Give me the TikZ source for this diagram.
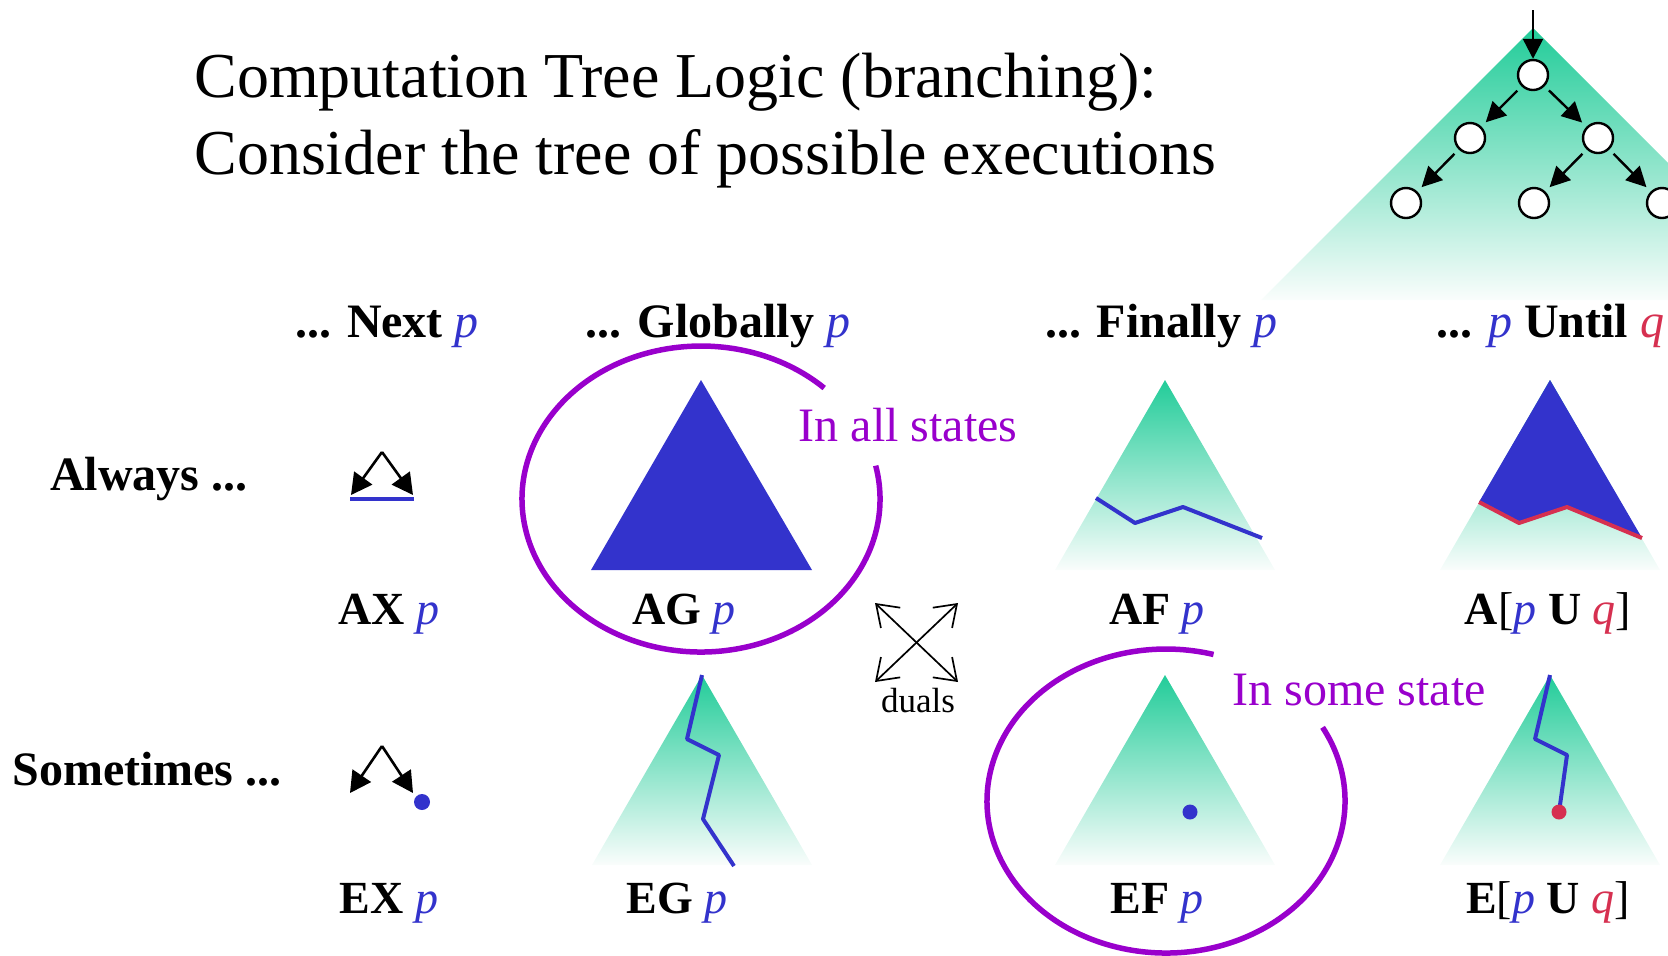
\documentclass[tikz,border=0pt]{standalone}
\usepackage{fontspec}
\setmainfont{Liberation Serif}
\usetikzlibrary{arrows.meta}
\definecolor{cblue}{RGB}{51,51,204}
\definecolor{cred}{RGB}{214,48,80}
\definecolor{cpurple}{RGB}{153,0,204}
\definecolor{cgreen}{RGB}{34,204,153}
\definecolor{cfade}{RGB}{250,253,252}
\newcommand{\ctlp}{\textnormal{\textit{\textcolor{cblue}{p}}}}
\newcommand{\ctlq}{\textnormal{\textit{\textcolor{cred}{q}}}}
\begin{document}
\begin{tikzpicture}[x=0.5pt,y=-0.5pt,
  ttl/.style={inner sep=0pt, anchor=base west, font=\fontsize{32}{38}\selectfont},
  hdr/.style={inner sep=0pt, anchor=base, font=\fontsize{24}{28}\selectfont\bfseries},
  lbl/.style={inner sep=0pt, anchor=base, font=\fontsize{23}{27}\selectfont},
  note/.style={inner sep=0pt, anchor=base, font=\fontsize{24}{28}\selectfont, text=cpurple},
  smalltxt/.style={inner sep=0pt, anchor=base, font=\fontsize{17.5}{20}\selectfont},
  state/.style={circle, draw=black, fill=white, line width=1.2pt, inner sep=0pt, minimum size=15pt},
  treearrow/.style={-{Triangle[length=10pt,width=10pt]}, line width=1.2pt},
  iconarrow/.style={-{Triangle[length=10.5pt,width=11pt]}, line width=1.3pt},
  dualarrow/.style={{Straight Barb[length=10pt,width=14pt]}-{Straight Barb[length=10pt,width=14pt]}, line width=0.85pt},
  fade/.style={top color=cgreen, middle color=cgreen!42!white, bottom color=cfade},
  trace/.style={draw=cblue, line width=2pt, line join=round},
  ring/.style={draw=cpurple, line width=2.75pt}
]
\useasboundingbox (0,0) rectangle (1668,955);

% big tree
\shade[fade] (1533,28) -- (1668,163) -- (1668,300) -- (1261,300) -- cycle;
\node[state] (r) at (1533,75) {};
\node[state] (a) at (1470,138) {};
\node[state] (b) at (1598,138) {};
\node[state] (c) at (1406,203) {};
\node[state] (d) at (1534,203) {};
\node[state] (e) at (1662,203) {};
\coordinate (rin) at (1533,10);
\draw[treearrow] (rin) -- (r);
\draw[treearrow, shorten <=3pt, shorten >=3pt] (r) -- (a);
\draw[treearrow, shorten <=3pt, shorten >=3pt] (r) -- (b);
\draw[treearrow, shorten <=3pt, shorten >=3pt] (a) -- (c);
\draw[treearrow, shorten <=3pt, shorten >=3pt] (b) -- (d);
\draw[treearrow, shorten <=3pt, shorten >=3pt] (b) -- (e);

% title
\node[ttl] (t1) at (194,97) {Computation Tree Logic (branching):};
\node[ttl] (t2) at (194,174) {Consider the tree of possible executions};

% headers
\node[hdr] (hnext) at (387,337) {... Next \ctlp};
\node[hdr] (hglob) at (718,337) {... Globally \ctlp};
\node[hdr] (hfin) at (1161,337) {... Finally \ctlp};
\node[hdr] (huntil) at (1550,337) {... \ctlp\ Until \ctlq};

\node[hdr] (always) at (149,490) {Always ...};
\node[hdr] (sometimes) at (147,785) {Sometimes ...};

% AX icon
\coordinate (axt) at (382,452);
\coordinate (axl) at (351,495);
\coordinate (axr) at (413,495);
\coordinate (axbl) at (350,499);
\coordinate (axbr) at (414,499);
\draw[iconarrow] (axt) -- (axl);
\draw[iconarrow] (axt) -- (axr);
\draw[cblue, line width=1.7pt] (axbl) -- (axbr);

% EX icon
\coordinate (ext) at (382,746);
\coordinate (exl) at (350,793);
\coordinate (exr) at (413,793);
\draw[iconarrow] (ext) -- (exl);
\draw[iconarrow] (ext) -- (exr);
\fill[cblue] (422,802) circle (8);

% AG
\fill[cblue] (701,380) -- (812,570) -- (591,570) -- cycle;
% AF
\shade[fade] (1165,380) -- (1275,570) -- (1055,570) -- cycle;
\draw[trace] (1096,498) -- (1135,523) -- (1183,507) -- (1262,538);
% A[p U q]
\shade[fade] (1550,380) -- (1660,570) -- (1440,570) -- cycle;
\fill[cblue] (1550,380) -- (1479,502) -- (1519,523) -- (1567,507) -- (1642,538) -- cycle;
\draw[draw=cred, line width=2pt, line join=round] (1479,502) -- (1519,523) -- (1567,507) -- (1642,538);

% EG
\shade[fade] (702,675) -- (812,865) -- (592,865) -- cycle;
\draw[trace] (702,675) -- (687,739) -- (719,755) -- (703,819) -- (734,866);
% EF
\shade[fade] (1165,675) -- (1275,865) -- (1055,865) -- cycle;
\fill[cblue] (1190,812) circle (7.5);
% E[p U q]
\shade[fade] (1550,675) -- (1660,865) -- (1440,865) -- cycle;
\draw[trace] (1550,675) -- (1535,739) -- (1567,755) -- (1559,812);
\fill[cred] (1559,812) circle (7.5);

% rings
\draw[ring] (701,499) ++(-12.6:179 and 153) arc[start angle=-12.6, end angle=313.5, x radius=179, y radius=153];
\draw[ring] (1166,801) ++(-29:179 and 152) arc[start angle=-29, end angle=285.4, x radius=179, y radius=152];

\node[note] (allstates) at (908,441) {In all states};
\node[note] (somestate) at (1359,705) {In some state};

% duals
\coordinate (d1) at (875,603);
\coordinate (d2) at (958,682);
\coordinate (d3) at (958,603);
\coordinate (d4) at (875,682);
\draw[dualarrow] (d1) -- (d2);
\draw[dualarrow] (d3) -- (d4);
\node[smalltxt] (duals) at (918,712) {duals};

% labels
\node[lbl] (ax) at (389,624) {\textbf{AX} \ctlp};
\node[lbl] (ag) at (684,624) {\textbf{AG} \ctlp};
\node[lbl] (af) at (1157,624) {\textbf{AF} \ctlp};
\node[lbl] (au) at (1548,624) {\textbf{A}[\ctlp\ \textbf{U} \ctlq]};
\node[lbl] (ex) at (389,913) {\textbf{EX} \ctlp};
\node[lbl] (eg) at (677,913) {\textbf{EG} \ctlp};
\node[lbl] (ef) at (1157,913) {\textbf{EF} \ctlp};
\node[lbl] (eu) at (1548,913) {\textbf{E}[\ctlp\ \textbf{U} \ctlq]};
\end{tikzpicture}
\end{document}
